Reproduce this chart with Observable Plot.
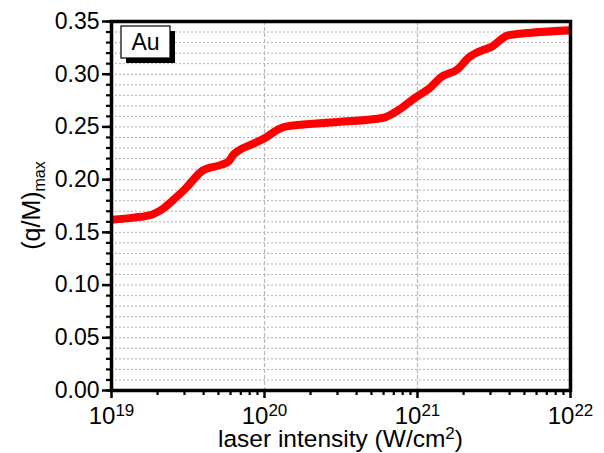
<!DOCTYPE html>
<html><head><meta charset="utf-8">
<script src="https://cdn.jsdelivr.net/npm/d3@7"></script>
<script src="https://cdn.jsdelivr.net/npm/@observablehq/plot@0.6"></script>
<style>
body{margin:0;background:#fff}
svg{font-family:"Liberation Sans",Arial,sans-serif}
</style>
</head><body><div id="chart"></div>
<script>
// laser intensity (W/cm^2)
const intensity = [1.0e19, 1.4e19, 1.85e19, 2.2e19, 2.5e19, 3.05e19, 3.95e19, 5.2e19, 5.8e19, 6.3e19, 6.8e19, 8.4e19, 1.02e20, 1.24e20, 1.4e20, 3.0e20, 6.0e20, 7.45e20, 9.5e20, 1.22e21, 1.42e21, 1.84e21, 2.17e21, 2.48e21, 3.02e21, 3.9e21, 5.5e21, 1.0e22];
// (q/M)max
const qm = [0.162, 0.164, 0.167, 0.173, 0.180, 0.1916, 0.2087, 0.214, 0.217, 0.224, 0.2277, 0.234, 0.240, 0.248, 0.2505, 0.2546, 0.2587, 0.2657, 0.277, 0.2877, 0.297, 0.305, 0.316, 0.321, 0.3257, 0.3368, 0.3393, 0.3416];

const xMajorExp = [19, 20, 21, 22];
const yMajor = [0, 0.05, 0.10, 0.15, 0.20, 0.25, 0.30, 0.35];
const yLabels = ["0.00", "0.05", "0.10", "0.15", "0.20", "0.25", "0.30", "0.35"];
const xTitle = "laser intensity (W/cm";
const xTitleSup = "2";
const xTitleEnd = ")";
const yTitle = "(q/M)";
const yTitleSub = "max";
const legendLabel = "Au";

const xMajor = xMajorExp.map(e => Math.pow(10, e));
const xMinor = [];
for (const e of [19, 20, 21]) for (let m = 2; m <= 9; m++) xMinor.push(m * Math.pow(10, e));
const yMinor = d3.range(0, 36).map(i => i / 100);
const data = intensity.map((x, i) => ({x, y: qm[i]}));

const W = 604, H = 453;
const mL = 111, mR = 34, mT = 21, mB = 63;

const chart = Plot.plot({
  width: W, height: H,
  marginLeft: mL, marginRight: mR, marginTop: mT, marginBottom: mB,
  x: {type: "log", domain: [1e19, 1e22]},
  y: {domain: [0, 0.35]},
  style: {fontFamily: "Liberation Sans, Arial, sans-serif", background: "#fff"},
  marks: [
    Plot.gridY(yMinor, {stroke: "#b0b0b0", strokeOpacity: 1, strokeWidth: 1, strokeDasharray: "2,2"}),
    Plot.gridX(xMajor, {stroke: "#b8b8b8", strokeOpacity: 1, strokeWidth: 1.2, strokeDasharray: "4,2"}),
    Plot.line(data, {x: "x", y: "y", stroke: "#ff0000", strokeWidth: 8, curve: "monotone-x", clip: true}),
    Plot.frame({stroke: "#000", strokeWidth: 3.5}),
    Plot.axisY(yMinor, {tickSize: 5, strokeWidth: 2.2, tickFormat: () => "", label: null}),
    Plot.axisY(yMajor, {tickSize: 9, strokeWidth: 2.5, tickPadding: 3, fontSize: 23, tickFormat: (d, i) => yLabels[i], label: null}),
    Plot.axisX(xMinor, {tickSize: 5, strokeWidth: 2.2, tickFormat: () => "", label: null}),
    Plot.axisX(xMajor, {tickSize: 8, strokeWidth: 2.5, tickPadding: 8, fontSize: 24, tickFormat: () => "10", label: null})
  ]
});
document.getElementById("chart").appendChild(chart);

const svg = d3.select(chart);
// superscripts for x tick labels
svg.selectAll("g[aria-label='x-axis tick label'] text")
  .filter(function() { return this.textContent === "10"; })
  .each(function(d, i) {
    const t = d3.select(this);
    t.text(null);
    t.append("tspan").text("10");
    t.append("tspan").attr("dy", -8).style("font-size", "17px").text(String(xMajorExp[i]));
  });

// axis titles
const cx = mL + (W - mL - mR) / 2;
const xt = svg.append("text").attr("x", cx).attr("y", 447).attr("text-anchor", "middle")
  .style("font-size", "24.5px").attr("fill", "#000");
xt.append("tspan").text(xTitle);
xt.append("tspan").attr("dy", -8).style("font-size", "17px").text(xTitleSup);
xt.append("tspan").attr("dy", 8).text(xTitleEnd);

const cy = mT + (H - mT - mB) / 2;
const yt = svg.append("text").attr("transform", `translate(40,${cy}) rotate(-90)`).attr("text-anchor", "middle")
  .style("font-size", "25px").attr("fill", "#000");
yt.append("tspan").text(yTitle);
yt.append("tspan").attr("dy", 5).style("font-size", "16px").text(yTitleSub);

// legend box
const lg = svg.append("g");
lg.append("rect").attr("x", 126).attr("y", 31).attr("width", 49).attr("height", 32).attr("fill", "#000");
lg.append("rect").attr("x", 121).attr("y", 26).attr("width", 49).attr("height", 32).attr("fill", "#fff").attr("stroke", "#000").attr("stroke-width", 1.2);
lg.append("text").attr("x", 145.5).attr("y", 50).attr("text-anchor", "middle").style("font-size", "23px").attr("fill", "#000").text(legendLabel);
</script>
</body></html>
